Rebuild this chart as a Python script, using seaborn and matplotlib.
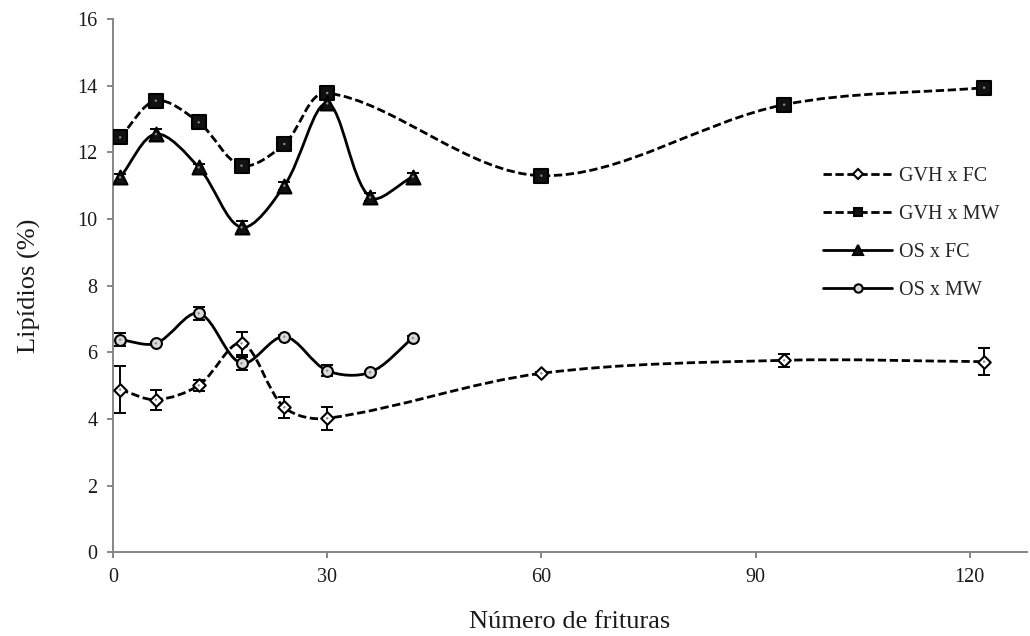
import numpy as np
import pandas as pd
import matplotlib
matplotlib.use("Agg")
import matplotlib.pyplot as plt
from matplotlib.path import Path
from matplotlib.patches import PathPatch
from matplotlib.lines import Line2D
import seaborn as sns

# Number of fryings for each oil
frituras_gvh = [1, 6, 12, 18, 24, 30, 60, 94, 122]
frituras_os = [1, 6, 12, 18, 24, 30, 36, 42]

# Lipid content (%) and standard deviation
gvh_fc = [4.88, 4.58, 5.01, 6.27, 4.35, 4.02, 5.37, 5.76, 5.72]
gvh_fc_sd = [0.70, 0.30, 0.17, 0.35, 0.31, 0.35, 0.05, 0.20, 0.40]
gvh_mw = [12.45, 13.55, 12.90, 11.60, 12.25, 13.78, 11.30, 13.43, 13.94]
gvh_mw_sd = [0.08, 0.08, 0.08, 0.08, 0.08, 0.08, 0.08, 0.08, 0.08]
os_fc = [11.25, 12.55, 11.55, 9.75, 11.00, 13.47, 10.65, 11.27]
os_fc_sd = [0.10, 0.15, 0.10, 0.20, 0.12, 0.10, 0.12, 0.10]
os_mw = [6.38, 6.27, 7.17, 5.67, 6.47, 5.45, 5.40, 6.43]
os_mw_sd = [0.20, 0.05, 0.19, 0.19, 0.05, 0.17, 0.05, 0.05]

series_names = ["GVH x FC", "GVH x MW", "OS x FC", "OS x MW"]

sns.set_theme(style="white")
plt.rcParams["font.family"] = ["Liberation Serif", "DejaVu Serif"]

fig = plt.figure(figsize=(10.30, 6.36), dpi=100)
ax = fig.add_axes([0.1097, 0.1316, 0.8873, 0.8385])
ax.set_xlim(0, 128)
ax.set_ylim(0, 16)

LW = 2.0
DASH = (0, (3.0, 1.3))


def smooth_path(xs, ys):
    """Smooth cubic Bezier through the points, with tangents scaled by the
    on-screen length of the neighbouring segments."""
    p = np.column_stack([np.asarray(xs, float), np.asarray(ys, float)])
    screen = ax.transData.transform(p)
    n = len(p)
    d = np.hypot(*np.diff(screen, axis=0).T)
    verts = [p[0]]
    codes = [Path.MOVETO]
    for i in range(n - 1):
        d_prev = d[i - 1] if i > 0 else 0.0
        d_next = d[i + 1] if i + 2 < n else 0.0
        p0 = p[i - 1] if i > 0 else p[i]
        p3 = p[i + 2] if i + 2 < n else p[i + 1]
        c1 = p[i] + (p[i + 1] - p0) * d[i] / (d_prev + d[i]) / 3.0
        c2 = p[i + 1] - (p3 - p[i]) * d[i] / (d[i] + d_next) / 3.0
        verts += [c1, c2, p[i + 1]]
        codes += [Path.CURVE4] * 3
    return Path(verts, codes)


styles = [
    dict(x=frituras_gvh, y=gvh_fc, sd=gvh_fc_sd, ls=DASH, marker="D", ms=6.4,
         face="white", leg_ms=5.0),
    dict(x=frituras_gvh, y=gvh_mw, sd=gvh_mw_sd, ls=DASH, marker="s", ms=9.5,
         face="#111111", leg_ms=6.0),
    dict(x=frituras_os, y=os_fc, sd=os_fc_sd, ls="-", marker="^", ms=10.0,
         face="#111111", leg_ms=6.5),
    dict(x=frituras_os, y=os_mw, sd=os_mw_sd, ls="-", marker="o", ms=7.8,
         face="#d9d9d9", leg_ms=6.0),
]

handles = []
for name, st in zip(series_names, styles):
    df = pd.DataFrame({"frituras": st["x"], "lipidios": st["y"], "sd": st["sd"]})
    # smoothed connecting line
    patch = PathPatch(smooth_path(df["frituras"], df["lipidios"]), fill=False,
                      edgecolor="black", lw=LW, linestyle=st["ls"],
                      capstyle="butt", zorder=2)
    ax.add_patch(patch)
    # error bars
    ax.errorbar(df["frituras"], df["lipidios"], yerr=df["sd"], fmt="none",
                ecolor="black", elinewidth=1.4, capsize=4, capthick=1.4,
                zorder=3)
    # markers
    sns.scatterplot(data=df, x="frituras", y="lipidios", marker=st["marker"],
                    s=st["ms"] ** 2, color=st["face"], edgecolor="black",
                    linewidth=1.5, zorder=5, ax=ax, legend=False)
    sns.scatterplot(data=df, x="frituras", y="lipidios", marker="o", s=3.0,
                    color="#8c8c8c", edgecolor="none", zorder=6, ax=ax,
                    legend=False)
    handles.append(Line2D([0], [0], color="black", lw=LW, linestyle=st["ls"],
                          marker=st["marker"], markersize=st["leg_ms"],
                          markerfacecolor=st["face"], markeredgecolor="black",
                          markeredgewidth=1.5, label=name))

ax.set_xlim(0, 128)
ax.set_ylim(0, 16)
ax.set_xticks([0, 30, 60, 90, 120])
ax.set_yticks(np.arange(0, 17, 2))

for side in ("top", "right"):
    ax.spines[side].set_visible(False)
for side in ("left", "bottom"):
    ax.spines[side].set_color("#868686")
    ax.spines[side].set_linewidth(1.4)

ax.tick_params(axis="both", which="major", direction="out", length=4.0,
               width=1.4, color="#868686", labelsize=14.5,
               labelcolor="#1a1a1a", left=True, bottom=True)
ax.tick_params(axis="y", pad=7)
ax.tick_params(axis="x", pad=7)

ax.set_xlabel("Número de frituras", fontsize=19, color="#1a1a1a")
ax.set_ylabel("Lipídios (%)", fontsize=19, color="#1a1a1a")
ax.xaxis.set_label_coords(0.5, -0.11)
ax.yaxis.set_label_coords(-0.079, 0.5)

ax.legend(handles=handles, loc="upper left",
          bbox_to_anchor=(823 / 1030, 1 - 167 / 636),
          bbox_transform=fig.transFigure, frameon=False, fontsize=14.5,
          handlelength=3.45, handletextpad=0.3, labelspacing=0.93,
          borderpad=0, borderaxespad=0)

fig.savefig("out.png", dpi=100, facecolor="white")
